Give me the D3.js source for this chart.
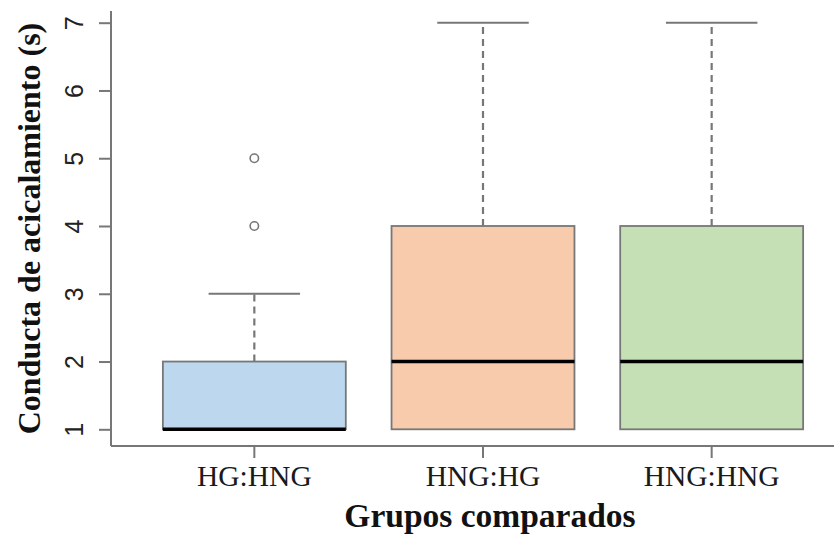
<!DOCTYPE html>
<html>
<head>
<meta charset="utf-8">
<script src="https://cdn.jsdelivr.net/npm/d3@7"></script>
<style>
  html, body { margin: 0; padding: 0; background: #fff; }
  svg { display: block; }
</style>
</head>
<body>
<svg id="chart" width="834" height="541"></svg>
<script>
// Grooming time (s) by compared group: five-number summaries and outliers
const groups   = ["HG:HNG", "HNG:HG", "HNG:HNG"];
const lowWhisk = [1, 1, 1];
const q1       = [1, 1, 1];
const medians  = [1, 2, 2];
const q3       = [2, 4, 4];
const hiWhisk  = [3, 7, 7];
const outliers = [[4, 5], [], []];
const fills    = ["#bdd7ee", "#f8cbad", "#c5e0b4"];
const yTicks   = [1, 2, 3, 4, 5, 6, 7];

const svg = d3.select("#chart");
const axisColor = "#777";

// plotting frame
const frame = { left: 111, right: 834, top: 11, bottom: 446 };

const x = d3.scaleBand().domain(groups).range([140, 826]).paddingInner(0.2).paddingOuter(0.1);
const y = d3.scaleLinear().domain([1, 7]).range([429.3, 22.7]);

const bw = x.bandwidth();
const cx = g => x(g) + bw / 2;

// boxes
const data = groups.map((g, i) => ({
  g, lo: lowWhisk[i], q1: q1[i], med: medians[i], q3: q3[i], hi: hiWhisk[i],
  out: outliers[i], fill: fills[i]
}));

const box = svg.append("g").selectAll("g").data(data).join("g");

// dashed whiskers (drawn from the box outward)
box.append("line")
  .attr("x1", d => cx(d.g)).attr("x2", d => cx(d.g))
  .attr("y1", d => y(d.q3)).attr("y2", d => y(d.hi))
  .attr("stroke", axisColor).attr("stroke-width", 2.2).attr("stroke-dasharray", "7,5");
box.filter(d => d.lo < d.q1).append("line")
  .attr("x1", d => cx(d.g)).attr("x2", d => cx(d.g))
  .attr("y1", d => y(d.q1)).attr("y2", d => y(d.lo))
  .attr("stroke", axisColor).attr("stroke-width", 2.2).attr("stroke-dasharray", "7,5");

// whisker caps
box.append("line")
  .attr("x1", d => cx(d.g) - bw / 4).attr("x2", d => cx(d.g) + bw / 4)
  .attr("y1", d => y(d.hi)).attr("y2", d => y(d.hi))
  .attr("stroke", axisColor).attr("stroke-width", 2);
box.filter(d => d.lo < d.q1).append("line")
  .attr("x1", d => cx(d.g) - bw / 4).attr("x2", d => cx(d.g) + bw / 4)
  .attr("y1", d => y(d.lo)).attr("y2", d => y(d.lo))
  .attr("stroke", axisColor).attr("stroke-width", 2);

// box body
box.append("rect")
  .attr("x", d => x(d.g)).attr("width", bw)
  .attr("y", d => y(d.q3)).attr("height", d => y(d.q1) - y(d.q3))
  .attr("fill", d => d.fill).attr("stroke", axisColor).attr("stroke-width", 1.8);

// medians
box.append("line")
  .attr("x1", d => x(d.g)).attr("x2", d => x(d.g) + bw)
  .attr("y1", d => y(d.med)).attr("y2", d => y(d.med))
  .attr("stroke", "#000").attr("stroke-width", 3.5);

// outliers
box.selectAll("circle").data(d => d.out.map(v => ({ g: d.g, v }))).join("circle")
  .attr("cx", d => cx(d.g)).attr("cy", d => y(d.v)).attr("r", 4.2)
  .attr("fill", "none").attr("stroke", axisColor).attr("stroke-width", 1.6);

// axes frame (L shape)
svg.append("line").attr("x1", frame.left).attr("x2", frame.left)
  .attr("y1", frame.top).attr("y2", frame.bottom)
  .attr("stroke", axisColor).attr("stroke-width", 2);
svg.append("line").attr("x1", frame.left).attr("x2", frame.right)
  .attr("y1", frame.bottom).attr("y2", frame.bottom)
  .attr("stroke", axisColor).attr("stroke-width", 2);

// y axis ticks and labels
const yAxis = svg.append("g").attr("transform", `translate(${frame.left},0)`)
  .call(d3.axisLeft(y).tickValues(yTicks).tickSize(12).tickFormat(d3.format("d")));
yAxis.select(".domain").remove();
yAxis.selectAll(".tick line").attr("stroke", axisColor).attr("stroke-width", 2);
yAxis.selectAll(".tick text")
  .attr("transform", "translate(-37,0) rotate(-90)")
  .attr("x", 0).attr("dy", "0.35em")
  .attr("text-anchor", "middle")
  .attr("font-family", "'Liberation Sans', Arial, sans-serif")
  .attr("font-size", 25).attr("fill", "#222");

// x axis ticks and labels
const xAxis = svg.append("g").attr("transform", `translate(0,${frame.bottom})`)
  .call(d3.axisBottom(x).tickSize(12).tickSizeOuter(0));
xAxis.select(".domain").remove();
xAxis.selectAll(".tick line").attr("stroke", axisColor).attr("stroke-width", 2);
xAxis.selectAll(".tick text")
  .attr("y", 40).attr("dy", 0)
  .attr("font-family", "'Liberation Serif', 'Times New Roman', serif")
  .attr("font-size", 29.5).attr("fill", "#1a1a1a");

// axis titles
svg.append("text")
  .attr("x", 490).attr("y", 527)
  .attr("text-anchor", "middle")
  .attr("font-family", "'Liberation Serif', 'Times New Roman', serif")
  .attr("font-weight", "bold").attr("font-size", 33.5).attr("fill", "#111")
  .text("Grupos comparados");

svg.append("text")
  .attr("transform", `translate(40,${(frame.top + frame.bottom) / 2}) rotate(-90)`)
  .attr("text-anchor", "middle")
  .attr("font-family", "'Liberation Serif', 'Times New Roman', serif")
  .attr("font-weight", "bold").attr("font-size", 32).attr("fill", "#111")
  .text("Conducta de acicalamiento (s)");
</script>
</body>
</html>
